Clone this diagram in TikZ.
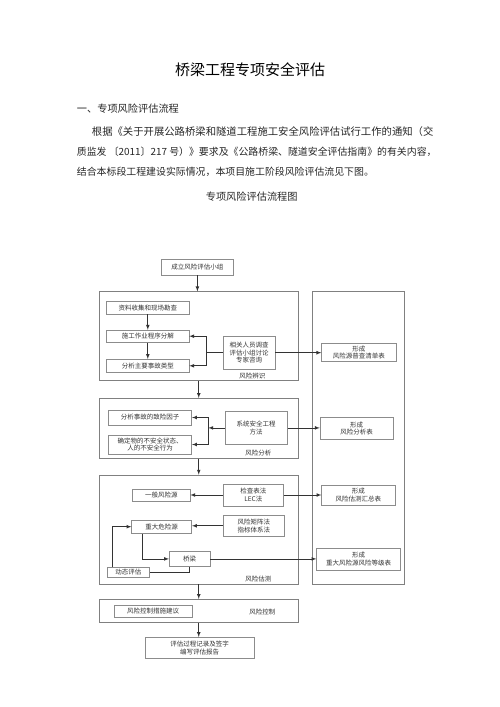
\documentclass[tikz,border=0pt]{standalone}
\usepackage{fontspec}
\setmainfont{Liberation Serif}
\newfontfamily\cjk{Noto Sans CJK SC}
\usetikzlibrary{positioning}

\begin{document}
\begin{tikzpicture}
[x=1pt,y=-1pt,>=latex,
textline/.style={anchor=west,inner sep=0pt,text=black!85,font=\cjk\fontsize{10.2}{12}\selectfont},
flownode/.style={inner sep=1pt,rectangle,draw=black!45,line width=0.6pt,align=center,text=black!80,font=\cjk\fontsize{6.5}{7.5}\selectfont},
framenode/.style={rectangle,draw=black!50,line width=0.7pt,inner sep=0pt,minimum width=199.5pt},
stagelabel/.style={inner sep=0pt,text=black!80,font=\cjk\fontsize{6.5}{7.5}\selectfont},
flowline/.style={draw=black!80,line width=0.7pt},
flowarrow/.style={flowline,->}
]
\useasboundingbox (0,0) rectangle (500,707);
% heading and text
\node [inner sep=0pt,font=\cjk\fontsize{15}{18}\selectfont] (Title) at (250,70) {桥梁工程专项安全评估};
\node [textline] (Section) at (76.7,108.3) {一、专项风险评估流程};
\node [textline,font=\cjk\fontsize{10.35}{12}\selectfont] (LineA) at (91.7,131.7) {根据《关于开展公路桥梁和隧道工程施工安全风险评估试行工作的通知（交};
\node [textline,font=\cjk\fontsize{9.9}{12}\selectfont] (LineB) at (76.7,151.7) {质监发 〔2011〕217 号）》要求及《公路桥梁、隧道安全评估指南》的有关内容，};
\node [textline,font=\cjk\fontsize{9.9}{12}\selectfont] (LineC) at (76.7,171.7) {结合本标段工程建设实际情况，本项目施工阶段风险评估流见下图。};
\node [textline,anchor=center] (Caption) at (251.7,196.7) {专项风险评估流程图};

% frames
\node [framenode,minimum height=89pt] (Bianshi) at (198.75,336.2) {};
\node [framenode,minimum height=60pt] (Fenxi) at (198.75,428.3) {};
\node [framenode,minimum height=109pt] (Gusuan) at (198.75,529.5) {};
\node [framenode,minimum height=23pt] (Kongzhi) at (198.75,610.8) {};
\node [framenode,minimum width=91.3pt,minimum height=292.3pt] (Xingcheng) at (358.35,437.85) {};

\node [flownode,minimum width=71.3pt,minimum height=16pt] (Zuzhi) at (197.4,267) {成立风险评估小组};

% risk identification
\node [flownode,minimum width=82.3pt,minimum height=12.3pt] (Ziliao) at (147.8,307.8) {资料收集和现场勘查};
\node [flownode,minimum width=82.3pt,minimum height=12.3pt] (Chengxu) at (147.8,336.2) {施工作业程序分解};
\node [flownode,minimum width=82.3pt,minimum height=13pt] (Shigu) at (147.8,365.8) {分析主要事故类型};
\node [flownode,minimum width=51.7pt,minimum height=33.3pt] (Diaocha) at (249.2,352.7) {相关人员调查\\评估小组讨论\\专家咨询};
\node [flownode,minimum width=74.3pt,minimum height=18.4pt] (Qingdan) at (358.8,352.5) {形成\\风险源普查清单表};
\node [stagelabel] at (252.3,376) {风险辨识};
\draw [flowarrow] (Ziliao) -- (Chengxu);
\draw [flowarrow] (Chengxu) -- (Shigu);
\draw [flowline] (Diaocha.west) -- (206,352.7);
\draw [flowarrow] (206,352.7) |- (Chengxu.east);
\draw [flowarrow] (206,352.7) |- (Shigu.east);
\draw [flowarrow] (Diaocha.east) -- (Diaocha.east -| Qingdan.west);

% risk analysis
\node [flownode,minimum width=83.4pt,minimum height=15pt] (Yinzi) at (150,417.5) {分析事故的致险因子};
\node [flownode,minimum width=83.4pt,minimum height=19pt] (Zhuangtai) at (150,444.5) {确定物的不安全状态、\\人的不安全行为};
\node [flownode,minimum width=62.3pt,minimum height=32.3pt] (Fangfa) at (256.2,427.9) {系统安全工程\\方法};
\node [flownode,minimum width=73.3pt,minimum height=22pt] (Fenxibiao) at (356.7,428.3) {形成\\风险分析表};
\node [stagelabel] at (258.3,452.7) {风险分析};
\coordinate (FenxiJoin) at (208.3,427.9);
\draw [flowarrow] (Fangfa.west) -- (FenxiJoin);
\draw [flowarrow] (FenxiJoin) |- (Yinzi.east);
\draw [flowarrow] (FenxiJoin) |- (Zhuangtai.east);
\draw [flowarrow] (Fangfa.east) -- (Fangfa.east -| Fenxibiao.west);

% risk estimation
\node [flownode,minimum width=57.3pt,minimum height=12.4pt] (Yiban) at (161.35,495.5) {一般风险源};
\node [flownode,minimum width=60pt,minimum height=22pt] (Lec) at (253.3,495) {检查表法\\LEC法};
\node [flownode,minimum width=73.3pt,minimum height=20pt] (Huizong) at (358.35,495) {形成\\风险估测汇总表};
\node [flownode,minimum width=60pt,minimum height=13.3pt] (Zhongda) at (161.7,526.7) {重大危险源};
\node [flownode,minimum width=61pt,minimum height=21.7pt] (Juzhen) at (253.8,525.8) {风险矩阵法\\指标体系法};
\node [flownode,minimum width=40.7pt,minimum height=15.7pt] (Qiaoliang) at (189.65,558.9) {桥梁};
\node [flownode,minimum width=42pt,minimum height=9.6pt] (Dongtai) at (128.3,572.5) {动态评估};
\node [flownode,minimum width=84pt,minimum height=21.7pt] (Dengji) at (358.7,559.2) {形成\\重大风险源风险等级表};
\node [stagelabel] at (258.3,579.3) {风险估测};
\draw [flowarrow] (Lec.west) -- (Lec.west -| Yiban.east);
\draw [flowarrow] (Lec.east) -- (Lec.east -| Huizong.west);
\draw [flowarrow] (Juzhen.west) -- (Juzhen.west -| Zhongda.east);
\draw [flowarrow] ([xshift=-19.4pt]Zhongda.south) |- (Qiaoliang.west);
\draw [flowline] (Qiaoliang.south) |- (Dongtai.east);
\draw [flowarrow] ([xshift=-15.6pt]Dongtai.north) |- (Zhongda.west);
\draw [flowarrow] (Qiaoliang.east) -- (Qiaoliang.east -| Dengji.west);

% risk control and report
\node [flownode,minimum width=78.3pt,minimum height=12.7pt] (Cuoshi) at (153.15,611.35) {风险控制措施建议};
\node [stagelabel] at (262.3,611.7) {风险控制};
\node [flownode,minimum width=109.3pt,minimum height=21pt] (Baogao) at (199.65,647.8) {评估过程记录及签字\\编写评估报告};

\draw [flowarrow] (Zuzhi.south) -- (Zuzhi.south |- Bianshi.north);
\draw [flowarrow] (Bianshi.south) -- (Fenxi.north);
\draw [flowarrow] (Fenxi.south) -- (Gusuan.north);
\draw [flowarrow] (Gusuan.south) -- (Kongzhi.north);
\draw [flowarrow] (Kongzhi.south) -- (Kongzhi.south |- Baogao.north);
\end{tikzpicture}
\end{document}
